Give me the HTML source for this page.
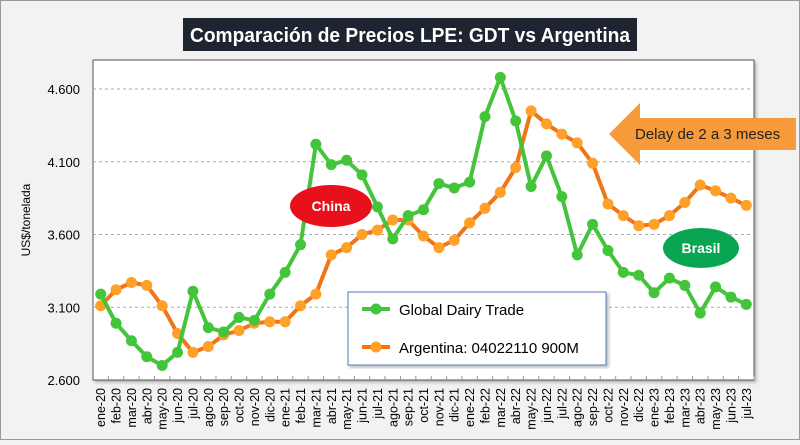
<!DOCTYPE html>
<html><head><meta charset="utf-8"><style>
body{margin:0;width:800px;height:440px;overflow:hidden;background:#f2f2f2;font-family:"Liberation Sans",sans-serif}
</style></head><body>
<svg width="800" height="440" xmlns="http://www.w3.org/2000/svg">
<defs><filter id="sh" x="-5%" y="-5%" width="110%" height="110%"><feDropShadow dx="2" dy="2" stdDeviation="1.5" flood-color="#888" flood-opacity="0.6"/></filter></defs>
<rect x="0.5" y="0.5" width="799" height="439" fill="#f2f2f2" stroke="#9a9a9a"/>
<rect x="93" y="60" width="661" height="320" fill="#fff" stroke="#555" stroke-width="1" filter="url(#sh)"/>
<g id="grid"></g>
<g id="yt"></g>
<g id="xt"></g>
<text transform="translate(30,220) rotate(-90)" text-anchor="middle" font-size="12" fill="#000">US$/tonelada</text>
<g id="series"></g>
<rect x="183" y="18" width="454" height="33" fill="#1e2530"/>
<text x="410" y="42" text-anchor="middle" font-size="20" font-weight="bold" fill="#fff" textLength="440" lengthAdjust="spacingAndGlyphs">Comparación de Precios LPE: GDT vs Argentina</text>
<ellipse cx="331" cy="206" rx="41" ry="21" fill="#e8101a"/>
<text x="331" y="211" text-anchor="middle" font-size="14" font-weight="bold" fill="#fff">China</text>
<ellipse cx="701" cy="248" rx="38" ry="20" fill="#0aa552"/>
<text x="701" y="253" text-anchor="middle" font-size="14" font-weight="bold" fill="#fff">Brasil</text>
<polygon points="609,134 640,103 640,118 796,118 796,150 640,150 640,165" fill="#f79a3a"/>
<text x="635" y="139" font-size="15" fill="#222">Delay de 2 a 3 meses</text>
<rect x="348" y="292" width="258" height="73" fill="#fff" stroke="#7090c8" stroke-width="1.2" filter="url(#sh)"/>
<g>
<line x1="362" y1="309" x2="390" y2="309" stroke="#44c43a" stroke-width="4"/><circle cx="376" cy="309" r="5.5" fill="#44c43a"/>
<text x="399" y="315" font-size="15" fill="#000">Global Dairy Trade</text></g>
<g>
<line x1="362" y1="347" x2="390" y2="347" stroke="#f07418" stroke-width="4"/><circle cx="376" cy="347" r="5.5" fill="#ffa028"/>
<text x="399" y="353" font-size="15" fill="#000">Argentina: 04022110 900M</text></g>
</svg>
<script>
const categories=["ene-20","feb-20","mar-20","abr-20","may-20","jun-20","jul-20","ago-20","sep-20","oct-20","nov-20","dic-20","ene-21","feb-21","mar-21","abr-21","may-21","jun-21","jul-21","ago-21","sep-21","oct-21","nov-21","dic-21","ene-22","feb-22","mar-22","abr-22","may-22","jun-22","jul-22","ago-22","sep-22","oct-22","nov-22","dic-22","ene-23","feb-23","mar-23","abr-23","may-23","jun-23","jul-23"];
const gdtValues=[3190,2990,2870,2760,2700,2790,3210,2960,2930,3030,3010,3190,3340,3530,4220,4080,4110,4010,3790,3570,3730,3770,3950,3920,3960,4410,4680,4380,3930,4140,3860,3460,3670,3490,3340,3320,3200,3300,3250,3060,3240,3170,3120];
const argValues=[3110,3220,3270,3250,3110,2920,2790,2830,2910,2940,2990,3000,3000,3110,3190,3460,3510,3600,3630,3700,3700,3590,3510,3560,3680,3780,3890,4060,4450,4360,4290,4230,4090,3810,3730,3660,3670,3730,3820,3940,3900,3850,3800];
const yTicks=[2600,3100,3600,4100,4600];
const yTickLabels=["2.600","3.100","3.600","4.100","4.600"];
const NS="http://www.w3.org/2000/svg";
const X0=93,X1=754,Y0=380,Y1=89,VMIN=2600,VMAX=4600;
const bw=(X1-X0)/categories.length;
function xs(i){return X0+bw*(i+0.5);}
function ys(v){return Y0-(v-VMIN)/(VMAX-VMIN)*(Y0-Y1);}
function mk(t,a,p){const e=document.createElementNS(NS,t);for(const k in a)e.setAttribute(k,a[k]);p.appendChild(e);return e;}
const grid=document.getElementById('grid'),yt=document.getElementById('yt'),xt=document.getElementById('xt'),ser=document.getElementById('series');
yTicks.forEach((v,i)=>{
 if(v>VMIN){const l=mk('line',{x1:X0,x2:X1,y1:ys(v),y2:ys(v),stroke:'#aaa','stroke-dasharray':'3,3'},grid);
 
 }
 const t=mk('text',{x:80,y:ys(v)+5,'text-anchor':'end','font-size':'13',fill:'#000'},yt);t.textContent=yTickLabels[i];
 
 
});
categories.forEach((c,i)=>{
 const tk=mk('line',{x1:X0+bw*(i+1),x2:X0+bw*(i+1),y1:Y0,y2:Y0-4,stroke:'#999'},xt);
 
 
 const t=mk('text',{transform:`translate(${xs(i)+4.5},388) rotate(-90)`,'text-anchor':'end','font-size':'12.5',fill:'#000'},xt);t.textContent=c;
 
 
});
function draw(vals,lc,mc,name){
 const g=mk('g',{},ser);
 
 
 const pl=mk('polyline',{points:vals.map((v,i)=>xs(i)+','+ys(v)).join(' '),fill:'none',stroke:lc,'stroke-width':4,'stroke-linejoin':'round'},g);
 
 
 vals.forEach((v,i)=>{const c=mk('circle',{cx:xs(i),cy:ys(v),r:5.5,fill:mc},g);
 
 });
}
draw(argValues,'#f07418','#ffa028','argentina-series');
draw(gdtValues,'#44c43a','#44c43a','gdt-series');
</script>
</body></html>
